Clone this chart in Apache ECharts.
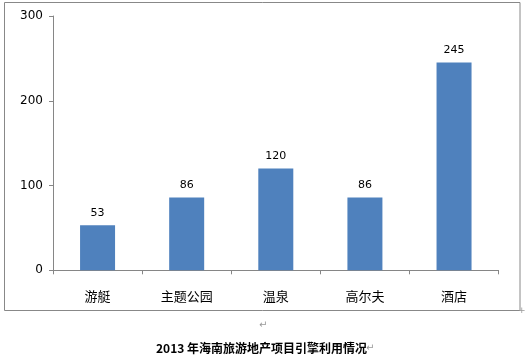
<!DOCTYPE html>
<html><head><meta charset="utf-8">
<script src="https://cdn.jsdelivr.net/npm/echarts@6/dist/echarts.min.js"></script>
<style>html,body{margin:0;padding:0;background:#fff}#c{width:526px;height:364px}</style>
</head><body><div id="c"></div>
<script>
const categories = ['游艇', '主题公园', '温泉', '高尔夫', '酒店'];
const values = [53, 86, 120, 86, 245];
const yTicks = [0, 100, 200, 300];
const title = '2013 年海南旅游地产项目引擎利用情况';

const chart = echarts.init(document.getElementById('c'));
chart.setOption({
  animation: false,
  backgroundColor: '#fff',
  grid: { left: 53, right: 27.4, top: 16, bottom: 93.7, containLabel: false },
  xAxis: {
    type: 'category', data: categories,
    axisLine: { lineStyle: { color: '#868686', width: 1 } },
    axisTick: { show: true, length: 4, lineStyle: { color: '#868686' } },
    axisLabel: { color: '#000', fontSize: 13, fontFamily: 'Noto Sans CJK SC', margin: 19 }
  },
  yAxis: {
    type: 'value', min: yTicks[0], max: yTicks[yTicks.length - 1], interval: 100,
    axisLine: { show: true, lineStyle: { color: '#868686', width: 1 } },
    axisTick: { show: true, length: 4, lineStyle: { color: '#868686' } },
    splitLine: { show: false },
    axisLabel: { color: '#000', fontSize: 12, fontFamily: 'DejaVu Sans', margin: 10 }
  },
  series: [{
    type: 'bar', data: values, barWidth: 35,
    itemStyle: { color: '#4F81BD' },
    label: { show: true, position: 'top', color: '#000', fontSize: 11, fontFamily: 'DejaVu Sans', distance: 7 }
  }],
  graphic: [
    { type: 'rect', shape: { x: 4.5, y: 2.5, width: 515.5, height: 308 }, style: { fill: 'none', stroke: '#888', lineWidth: 1 }, silent: true },
    { type: 'text', left: 259, top: 320, style: { text: '↵', fill: '#999', font: '10px DejaVu Sans' } },
    { type: 'text', left: 518, top: 306, style: { text: '+', fill: '#999', font: '9px DejaVu Sans' } },
    { type: 'text', left: 156, top: 342, style: { text: title, fill: '#000', font: 'bold 12px "Noto Sans CJK SC"' } },
    { type: 'text', left: 366, top: 343, style: { text: '↵', fill: '#999', font: '10px DejaVu Sans' } }
  ]
});
</script></body></html>
